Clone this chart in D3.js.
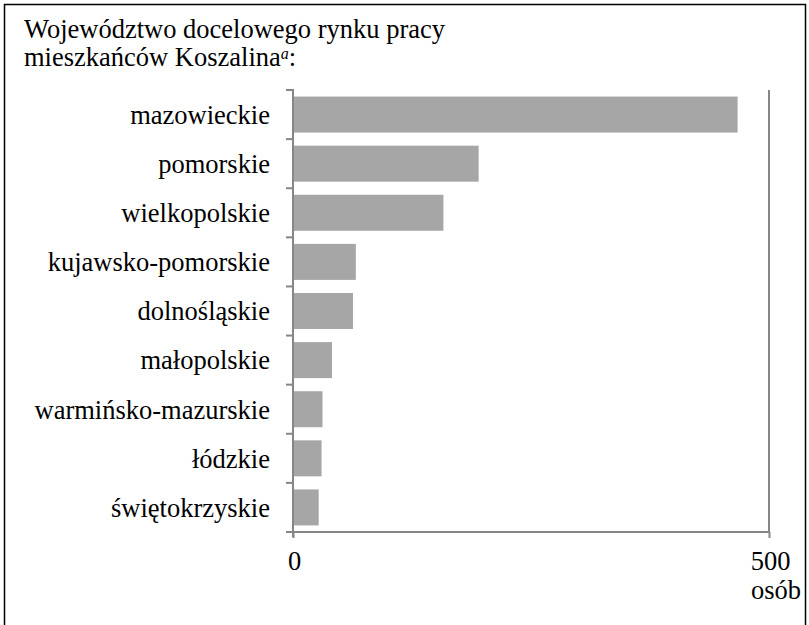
<!DOCTYPE html>
<html><head><meta charset="utf-8">
<script src="https://cdn.jsdelivr.net/npm/d3@7"></script>
<style>body{margin:0;background:#fff}svg{display:block}</style>
</head><body>
<script>
const categories = ["mazowieckie","pomorskie","wielkopolskie","kujawsko-pomorskie","dolnośląskie","małopolskie","warmińsko-mazurskie","łódzkie","świętokrzyskie"];
const values = [467,195,158,66,63,41,31,30,27];
const xTicks = [0,500];
const titleLines = ["Województwo docelowego rynku pracy","mieszkańców Koszalina"];
const unitLabel = "osób";

const FONT="Liberation Serif", FS="26.5px";
const W=809,H=625;
const svg=d3.select("body").append("svg").attr("width",W).attr("height",H);
svg.append("rect").attr("x",4.5).attr("y",4.5).attr("width",801).attr("height",640).attr("fill","none").attr("stroke","#000").attr("stroke-width",1.5);

const x=d3.scaleLinear().domain([0,500]).range([293,769]);
const y=d3.scaleBand().domain(categories).range([90,532]).paddingInner(0.267).paddingOuter(0.1335);
const axisCol="#868686";
const styleText=s=>s.style("font-family",FONT).style("font-size",FS).attr("fill","#000");

// title
const t=svg.append("g");
t.append("text").attr("x",24).attr("y",38).call(styleText).text(titleLines[0]);
const t2=t.append("text").attr("x",24).attr("y",65.5).call(styleText);
t2.append("tspan").text(titleLines[1]);
t2.append("tspan").style("font-style","italic").style("font-size","16px").attr("dy",-7).text("a");
t2.append("tspan").attr("dy",7).text(":");

// right gridline at 500
svg.append("line").attr("x1",x(500)).attr("x2",x(500)).attr("y1",90).attr("y2",532).attr("stroke",axisCol).attr("stroke-width",2);

// bars
svg.selectAll("rect.bar").data(categories).join("rect").attr("class","bar")
 .attr("x",x(0)).attr("y",d=>y(d)).attr("height",y.bandwidth())
 .attr("width",(d,i)=>x(values[i])-x(0)).attr("fill","#a6a6a6");

// x axis
const xa=svg.append("g").attr("transform","translate(0,532)")
 .call(d3.axisBottom(x).tickValues(xTicks).tickSize(6).tickPadding(14).tickFormat(d3.format("d")));
xa.select(".domain").attr("stroke",axisCol).attr("stroke-width",2).attr("d",`M${x(0)},0H${x(500)}`);
xa.selectAll(".tick line").attr("stroke",axisCol).attr("stroke-width",2);
xa.selectAll(".tick text").call(styleText).attr("dy",null).attr("y",38).attr("dx",1);
svg.append("text").attr("x",x(500)+7).attr("y",599).attr("text-anchor","middle").call(styleText).text(unitLabel);

// y axis
const ya=svg.append("g").attr("transform",`translate(${x(0)},0)`)
 .call(d3.axisLeft(y).tickSize(0).tickPadding(23));
ya.select(".domain").attr("stroke",axisCol).attr("stroke-width",2).attr("d","M0,89V537");
ya.selectAll(".tick text").call(styleText).attr("dy","0.35em");
const bounds=d3.range(categories.length+1).map(i=>90+i*(442/categories.length));
ya.selectAll("line.sep").data(bounds).join("line").attr("class","sep")
 .attr("x1",-7).attr("x2",0).attr("y1",d=>d).attr("y2",d=>d).attr("stroke",axisCol).attr("stroke-width",2);
</script>
</body></html>
